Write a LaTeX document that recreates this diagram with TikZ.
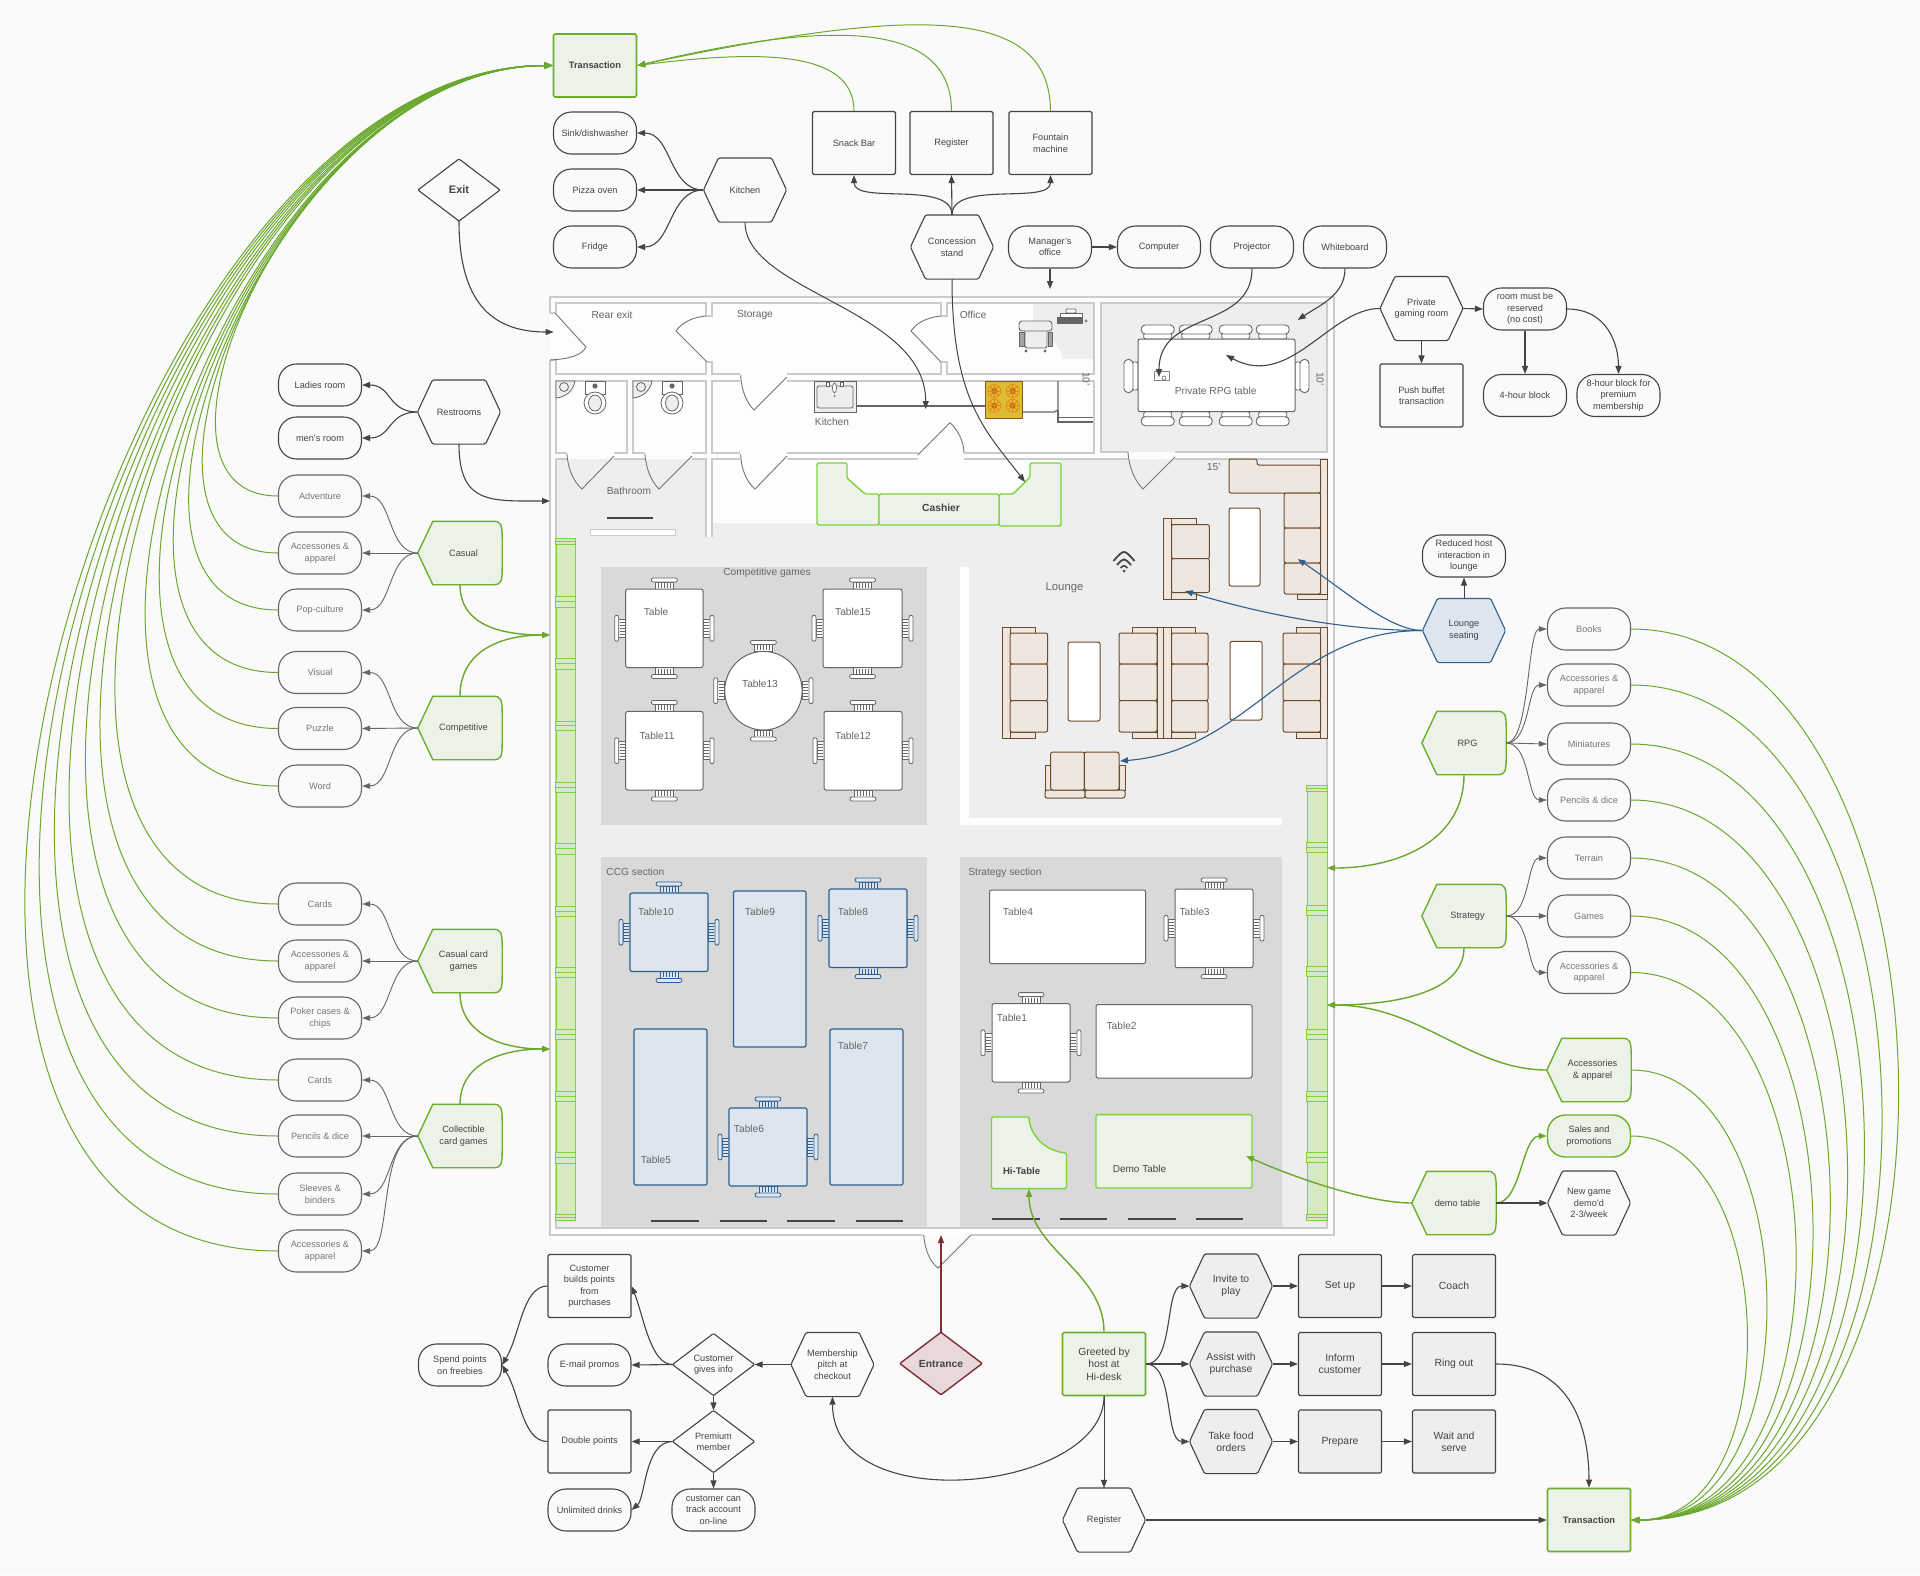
\documentclass[tikz,border=0pt]{standalone}
\usepackage{fontspec}
\setmainfont{Liberation Sans}
\usetikzlibrary{arrows.meta}
\definecolor{bgc}{HTML}{FAFAFA}
\definecolor{ink}{HTML}{444444}
\definecolor{gy}{HTML}{666666}
\definecolor{gytx}{HTML}{777777}
\definecolor{gn}{HTML}{6CB02A}
\definecolor{gnl}{HTML}{6AA82E}
\definecolor{gnf}{HTML}{EDF2E8}
\definecolor{gnb}{HTML}{7AD33C}
\definecolor{railf}{HTML}{D6E9BF}
\definecolor{blu}{HTML}{2D5F8F}
\definecolor{bluf}{HTML}{DDE5EE}
\definecolor{rd}{HTML}{7E2E35}
\definecolor{rdf}{HTML}{E8D8DA}
\definecolor{wall}{HTML}{CBCBCB}
\definecolor{flr}{HTML}{EEEEEE}
\definecolor{sect}{HTML}{D9D9D9}
\definecolor{sofaf}{HTML}{EFE7DF}
\definecolor{sofad}{HTML}{6B4A2A}
\definecolor{stove}{HTML}{DDBB33}
\newdimen\pnA \newdimen\pnB \newdimen\pnC \newdimen\pnD \newdimen\pnE \newdimen\pnF \newdimen\pnG \newdimen\pnH \newdimen\pnI \newdimen\pnJ \newdimen\pnK \newdimen\pnL
\makeatletter
\pgfdeclareshape{hexa}{
 \inheritsavedanchors[from=rectangle]
 \inheritanchorborder[from=rectangle]
 \inheritanchor[from=rectangle]{center}
 \inheritanchor[from=rectangle]{north}
 \inheritanchor[from=rectangle]{south}
 \inheritanchor[from=rectangle]{west}
 \inheritanchor[from=rectangle]{east}
 \backgroundpath{
  \southwest \pnA=\pgf@x \pnB=\pgf@y
  \northeast \pnC=\pgf@x \pnD=\pgf@y
  \pnE=.5\pnB \advance\pnE by .5\pnD
  \pnF=\pnA \advance\pnF by 15pt
  \pnG=\pnC \advance\pnG by -15pt
  \pgfpathmoveto{\pgfqpoint{\pnA}{\pnE}}
  \pgfpathlineto{\pgfqpoint{\pnF}{\pnD}}
  \pgfpathlineto{\pgfqpoint{\pnG}{\pnD}}
  \pgfpathlineto{\pgfqpoint{\pnC}{\pnE}}
  \pgfpathlineto{\pgfqpoint{\pnG}{\pnB}}
  \pgfpathlineto{\pgfqpoint{\pnF}{\pnB}}
  \pgfpathclose
 }
}
\pgfdeclareshape{penta}{
 \inheritsavedanchors[from=rectangle]
 \inheritanchorborder[from=rectangle]
 \inheritanchor[from=rectangle]{center}
 \inheritanchor[from=rectangle]{north}
 \inheritanchor[from=rectangle]{south}
 \inheritanchor[from=rectangle]{west}
 \inheritanchor[from=rectangle]{east}
 \backgroundpath{
  \southwest \pnA=\pgf@x \pnB=\pgf@y
  \northeast \pnC=\pgf@x \pnD=\pgf@y
  \pnE=.5\pnB \advance\pnE by .5\pnD
  \pnF=\pnA \advance\pnF by 15pt
  \pnG=\pnC \advance\pnG by -9pt
  \pnH=\pnC \advance\pnH by -1pt
  \pnI=\pnD \advance\pnI by -3pt
  \pnJ=\pnD \advance\pnJ by -18pt
  \pnK=\pnB \advance\pnK by 3pt
  \pnL=\pnB \advance\pnL by 18pt
  \pgfpathmoveto{\pgfqpoint{\pnA}{\pnE}}
  \pgfpathlineto{\pgfqpoint{\pnF}{\pnD}}
  \pgfpathlineto{\pgfqpoint{\pnG}{\pnD}}
  \pgfpathcurveto{\pgfqpoint{\pnH}{\pnD}}{\pgfqpoint{\pnC}{\pnI}}{\pgfqpoint{\pnC}{\pnJ}}
  \pgfpathlineto{\pgfqpoint{\pnC}{\pnL}}
  \pgfpathcurveto{\pgfqpoint{\pnC}{\pnK}}{\pgfqpoint{\pnH}{\pnB}}{\pgfqpoint{\pnG}{\pnB}}
  \pgfpathlineto{\pgfqpoint{\pnF}{\pnB}}
  \pgfpathclose
 }
}
\pgfdeclareshape{diam}{
 \inheritsavedanchors[from=rectangle]
 \inheritanchorborder[from=rectangle]
 \inheritanchor[from=rectangle]{center}
 \inheritanchor[from=rectangle]{north}
 \inheritanchor[from=rectangle]{south}
 \inheritanchor[from=rectangle]{west}
 \inheritanchor[from=rectangle]{east}
 \backgroundpath{
  \southwest \pnA=\pgf@x \pnB=\pgf@y
  \northeast \pnC=\pgf@x \pnD=\pgf@y
  \pnE=.5\pnB \advance\pnE by .5\pnD
  \pnF=.5\pnA \advance\pnF by .5\pnC
  \pgfpathmoveto{\pgfqpoint{\pnA}{\pnE}}
  \pgfpathlineto{\pgfqpoint{\pnF}{\pnD}}
  \pgfpathlineto{\pgfqpoint{\pnC}{\pnE}}
  \pgfpathlineto{\pgfqpoint{\pnF}{\pnB}}
  \pgfpathclose
 }
}
\makeatother
\newcommand\sh{\hspace*{7pt}}
\newcommand\lbl[5][gy]{\node[text=#1,inner sep=0pt,align=center,font=\fontsize{10.2}{12}\selectfont] (#2) at (#3,#4) {#5};}
% chair: table-edge point x y, rotation, stroke, fill
\newcommand\chairp[5]{\begin{scope}[shift={(#1,#2)},rotate=#3,draw=#4,line width=0.8pt]
 \draw[fill=#5] (-9,0) rectangle (9,-7);
 \foreach \hx in {-6,-3,0,3,6}{\draw[line width=0.5pt] (\hx,-1) -- (\hx,-6);}
 \draw[fill=#5,rounded corners=2pt] (-13,-7) rectangle (13,-11);
 \end{scope}}
\newcommand\tbl[7]{\draw[draw=#5,fill=#6,line width=#7,rounded corners=2pt] (#1,#2) rectangle (#3,#4);}
\newcommand\tchairs[6]{\pgfmathsetmacro\cx{(#1+#3)/2}\pgfmathsetmacro\cy{(#2+#4)/2}%
 \chairp{\cx}{#2}{0}{#5}{#6}\chairp{\cx}{#4}{180}{#5}{#6}\chairp{#1}{\cy}{90}{#5}{#6}\chairp{#3}{\cy}{-90}{#5}{#6}}
\newcommand\bigch[3]{\begin{scope}[shift={(#1,#2)},rotate=#3,draw=gy,line width=0.9pt]
 \draw[fill=white,rounded corners=1.5pt] (-14,0) rectangle (14,-6);
 \draw[fill=white,rounded corners=4pt] (-16.5,-5) rectangle (16.5,-14);
 \end{scope}}
\newcommand\seat[4]{\draw[draw=sofad,fill=sofaf,line width=1pt,rounded corners=2pt] (#1,#2) rectangle (#3,#4);}
\newcommand\toilet[1]{\begin{scope}[draw=gy,line width=0.8pt]
 \draw[fill=white] (#1-10,381) rectangle (#1+10,394);
 \fill[gy] (#1,386) circle (2.6);
 \draw[fill=white] (#1,403) ellipse (11 and 11);
 \draw[fill=flr] (#1,403) ellipse (6.5 and 8);
 \end{scope}}
\newcommand\csink[1]{\begin{scope}[draw=gy,line width=0.8pt]
 \draw[fill=flr] (#1,381) -- (#1+19,381) .. controls (#1+17,391) and (#1+10,397) .. (#1,398) -- cycle;
 \draw (#1+8,387) circle (4.5);
 \end{scope}}
\newcommand\burner[2]{\fill[brown!75!black] (#1,#2) circle (3);
 \foreach \ba in {0,45,...,315}{\draw[orange!70!brown,line width=0.7pt] (#1,#2) -- ++(\ba:6.5);}
 \draw[orange!70!brown,line width=.6pt] (#1,#2) circle (6.5);}
\tikzset{
 x=1pt,y=-1pt,
 every node/.style={font=\fontsize{9.2}{11.5}\selectfont},
 base/.style={draw=ink,fill=bgc,text=ink,line width=1.1pt,align=center,inner sep=0pt},
 rnd/.style={base,rectangle,rounded corners=18pt,minimum width=83pt,minimum height=42pt},
 rgy/.style={rnd,draw=gy,text=gytx},
 nbox/.style={base,rectangle,rounded corners=1.5pt,minimum width=83pt,minimum height=63pt},
 hex/.style={base,hexa,rounded corners=1.5pt,minimum width=82pt,minimum height=63pt},
 pen/.style={base,penta,draw=gn,fill=gnf,line width=1.4pt,minimum width=83pt,minimum height=62pt},
 dia/.style={base,diam,rounded corners=1pt,minimum width=81pt,minimum height=61pt},
 gbig/.style={font=\fontsize{10.4}{12.3}\selectfont},
 greyfill/.style={fill=flr,gbig},
 wl/.style={draw=wall,line width=1.3pt},
 dr/.style={draw=gy!90,line width=0.9pt},
 con/.style={draw=ink,line width=1.1pt,-{Triangle[length=8pt,width=6pt]}},
 thin con/.style={draw=gy,line width=0.9pt,-{Triangle[length=8pt,width=5.5pt]}},
 gc/.style={draw=gnl,line width=1pt,-{Triangle[length=8pt,width=6pt]}},
 gcb/.style={draw=gnl,line width=1.4pt,-{Triangle[length=8pt,width=6pt]}},
 bc/.style={draw=blu,line width=1.1pt,-{Triangle[length=8pt,width=6pt]}},
 railc/.style={draw=gnb,fill=railf,line width=0.9pt},
 gt/.style={draw=gnb,fill=gnf,line width=1.4pt},
}
\begin{document}
\begin{tikzpicture}
\useasboundingbox (0,0) rectangle (1920,1575);
\fill[bgc] (0,0) rectangle (1920,1575);
% ---------- floor ----------
\fill[white!60!bgc] (550,297) rectangle (1334,1235);
\fill[flr] (556,523) rectangle (1327,1228);
\fill[flr] (556,459) rectangle (706,537);
\fill[flr] (1060,459) rectangle (1327,523);
\fill[white!60!bgc] (706,459) rectangle (712,537);
\fill[white!60!bgc] (960,567) rectangle (968.5,825);
\fill[white!60!bgc] (960,817.5) rectangle (1282,825);
\fill[sect] (600.7,567) rectangle (927,824.6);
\fill[sect] (600.7,857) rectangle (927,1227);
\fill[sect] (960,857) rectangle (1282,1227);
\fill[flr] (1101,303) rectangle (1327,452);
\fill[flr] (1033,303) -- (1094,303) -- (1094,359) -- (1063,359) .. controls (1059,345) and (1052,335) .. (1033,331) -- cycle;
% walls
\draw[wl] (550,360) -- (550,1235) -- (923,1235);
\draw[wl] (971,1235) -- (1334,1235) -- (1334,297) -- (550,297) -- (550,313) -- (556,313);
\draw[wl] (550,360) -- (556,360);
\draw[wl] (556,313) -- (556,303) -- (706,303) -- (706,316) -- (712,316) -- (712,303) -- (941,303) -- (941,316) -- (947,316) -- (947,303) -- (1094,303) -- (1094,374) -- (947,374) -- (947,362) -- (941,362) -- (941,374) -- (787,374);
\draw[wl] (740,374) -- (712,374) -- (712,362) -- (706,362) -- (706,374) -- (556,374) -- (556,360);
\draw[wl] (567,453) -- (556,453) -- (556,381) -- (627,381) -- (627,453) -- (614,453);
\draw[wl] (645,453) -- (633,453) -- (633,381) -- (706,381) -- (706,453) -- (692,453);
\draw[wl] (740,381) -- (712,381) -- (712,453) -- (740,453);
\draw[wl] (787,453) -- (917.7,453);
\draw[wl] (964,453) -- (1094,453) -- (1094,381) -- (787,381);
\draw[wl] (556,459) -- (567,459);
\draw[wl] (614,459) -- (645,459);
\draw[wl] (692,459) -- (706,459) -- (706,537);
\draw[wl] (712,537) -- (712,459) -- (740,459);
\draw[wl] (787,459) -- (917.7,459);
\draw[wl] (964,459) -- (1128,459);
\draw[wl] (1175,459) -- (1327,459) -- (1327,1228) -- (556,1228) -- (556,459);
\draw[wl] (1128,452) -- (1101,452) -- (1101,303) -- (1327,303) -- (1327,452) -- (1175,452);
% doors
\draw[dr] (555,313) -- (586,347) .. controls (582,355) and (570,359) .. (550,360);
\draw[dr] (706,316) .. controls (694,317) and (682,322) .. (676,331) -- (707,362);
\draw[dr] (941,316) .. controls (929,317) and (917,322) .. (911,331) -- (941,362);
\draw[dr] (740.7,375) .. controls (741,390) and (747,403) .. (754,410) -- (787,377);
\draw[dr] (740.7,454) .. controls (741,470) and (747,482) .. (755,489) -- (787,456);
\draw[dr] (567,454) .. controls (568,470) and (574,482) .. (582,489) -- (614,456);
\draw[dr] (645,454) .. controls (646,470) and (652,482) .. (659,489) -- (692,456);
\draw[dr] (917.7,455) -- (950,422.7) .. controls (958,430) and (964,442) .. (964,453);
\draw[dr] (1128,452) .. controls (1129,468) and (1135,481) .. (1143,489) -- (1175,457);
\draw[dr] (923.7,1235) .. controls (925,1250) and (930,1262) .. (938,1268) -- (971,1235);
% bathroom
\draw[ink,line width=2.4pt] (607,518) -- (653,518);
\draw[draw=wall,fill=white,line width=1pt] (590,529) rectangle (675,535.5);
% kitchen fixtures
\draw[draw=gy,fill=flr,line width=1pt] (814,381) rectangle (856,412);
\draw[draw=gy,fill=flr,line width=0.8pt,rounded corners=2pt] (817,386) rectangle (853,408);
\draw[fill=white,draw=gy,line width=0.7pt] (834.5,388) ellipse (2 and 5);
\fill[gy] (834.5,396) circle (1);
\draw[draw=gy,fill=white,line width=0.6pt] (826,382) rectangle (829,386);
\draw[draw=gy,fill=white,line width=0.6pt] (840,382) rectangle (843,386);
\draw[gy,line width=1.2pt] (856,406) -- (985,406);
\draw[draw=brown!70!black,fill=stove,line width=0.8pt] (985,381) rectangle (1022,418);
\burner{994.3}{391}\burner{1012.7}{391}\burner{994.3}{405.7}\burner{1012.7}{405.7}
\draw[gy,line width=1.2pt] (1022,412) -- (1054,412) -- (1058,410) -- (1058,381);
\draw[gy,line width=1.2pt] (1058,410) -- (1058,422) -- (1093,422);
\draw[gy,line width=1pt] (1058,417) -- (1093,417);
% toilets
\csink{556}\csink{633}
\toilet{595}\toilet{672}
% office
\draw[draw=gy,fill=white,line width=.8pt,rounded corners=1pt] (1066,309) rectangle (1076,313);
\draw[draw=gy,fill=white,line width=.8pt] (1060,313) rectangle (1082,317);
\draw[draw=gy,fill=gy,line width=.6pt] (1057,317) rectangle (1082,323);
\draw[draw=gy,line width=.6pt] (1086,321) circle (1.2);
\draw[draw=gy,fill=flr,line width=.9pt,rounded corners=2pt] (1025,328) rectangle (1047,348);
\draw[draw=gy,fill=gy!60,line width=.8pt] (1019.5,332) rectangle (1024,346);
\draw[draw=gy,fill=gy!60,line width=.8pt] (1048,332) rectangle (1052.5,346);
\draw[draw=gy,fill=flr,line width=.9pt,rounded corners=3pt] (1019,321) rectangle (1052,331);
\fill[gy] (1026,351) circle (1.6) (1045,351) circle (1.6);
% private room
\foreach \cxx in {1157.7,1195.7,1235.7,1272.7}{\bigch{\cxx}{339}{0}\bigch{\cxx}{411.7}{180}}
\bigch{1138}{376}{90}\bigch{1295}{376}{-90}
\draw[draw=gy,fill=white,line width=1pt,rounded corners=2pt] (1138,339) rectangle (1295,411.7);
\draw[draw=gy!80,fill=white,line width=.6pt] (1154,371) rectangle (1169,380);
\draw[gy,line width=.6pt] (1164,378) circle (2);
\lbl{lPriv}{1215.7}{391}{Private RPG table}
\node[text=gy,inner sep=0pt,rotate=-90,font=\fontsize{10.2}{12}\selectfont] (lTenA) at (1086,379) {10'};
\node[text=gy,inner sep=0pt,rotate=-90,font=\fontsize{10.2}{12}\selectfont] (lTenB) at (1320,379) {10'};
\lbl{lFif}{1213.7}{466.7}{15'}
% sofas
\draw[draw=sofad,fill=sofaf,line width=1pt] (1320.7,459) rectangle (1327,594);
\draw[draw=sofad,fill=sofaf,line width=1pt,rounded corners=2pt] (1229,459) -- (1257,459) -- (1257,465) -- (1320.7,465) -- (1320.7,493) -- (1229,493) -- cycle;
\seat{1284}{493}{1320.7}{528}\seat{1284}{528}{1320.7}{563}\seat{1284}{563}{1320.7}{594}
\draw[draw=sofad,fill=sofaf,line width=1pt] (1297,594) rectangle (1327,599);
\draw[draw=sofad,fill=white,line width=1pt,rounded corners=2pt] (1229,508) rectangle (1260,586);
% wifi sofa
\draw[draw=sofad,fill=sofaf,line width=1pt] (1163.5,518) rectangle (1171.5,599);
\draw[draw=sofad,fill=sofaf,line width=1pt] (1171.5,518) rectangle (1196,524.6);
\draw[draw=sofad,fill=sofaf,line width=1pt] (1171.5,592.5) rectangle (1196,599);
\seat{1171.5}{524.6}{1209.4}{558.6}\seat{1171.5}{558.6}{1209.4}{592.5}
% left sofa
\draw[draw=sofad,fill=sofaf,line width=1pt] (1002,627) rectangle (1010,738);
\draw[draw=sofad,fill=sofaf,line width=1pt] (1010,627) rectangle (1035,633);
\draw[draw=sofad,fill=sofaf,line width=1pt] (1010,732) rectangle (1035,738);
\seat{1010}{633}{1047.6}{664}\seat{1010}{664}{1047.6}{700.7}\seat{1010}{700.7}{1047.6}{732}
\draw[draw=sofad,fill=white,line width=1pt,rounded corners=2pt] (1068,642) rectangle (1100,721);
% centre sofa
\draw[draw=sofad,fill=sofaf,line width=1pt] (1132,627) rectangle (1195,633);
\draw[draw=sofad,fill=sofaf,line width=1pt] (1132,732) rectangle (1195,738);
\draw[draw=sofad,fill=sofaf,line width=1pt] (1157,627) rectangle (1163.5,738);
\draw[draw=sofad,fill=sofaf,line width=1pt] (1163.5,627) rectangle (1171.5,738);
\seat{1119}{633}{1157}{664}\seat{1119}{664}{1157}{700.7}\seat{1119}{700.7}{1157}{732}
\seat{1171.5}{633}{1208}{664}\seat{1171.5}{664}{1208}{700.7}\seat{1171.5}{700.7}{1208}{732}
\draw[draw=sofad,fill=white,line width=1pt,rounded corners=2pt] (1230,641.4) rectangle (1262,720);
% right sofa
\draw[draw=sofad,fill=sofaf,line width=1pt] (1320.6,627) rectangle (1327,738);
\draw[draw=sofad,fill=sofaf,line width=1pt] (1296,627) rectangle (1320.6,633);
\draw[draw=sofad,fill=sofaf,line width=1pt] (1296,732) rectangle (1320.6,738);
\seat{1283}{633}{1320.6}{664}\seat{1283}{664}{1320.6}{700.7}\seat{1283}{700.7}{1320.6}{732}
% bottom sofa
\draw[draw=sofad,fill=sofaf,line width=1pt] (1045,765) rectangle (1051,790);
\draw[draw=sofad,fill=sofaf,line width=1pt] (1119,765) rectangle (1125,790);
\seat{1045}{790}{1085}{798}\seat{1085}{790}{1125}{798}
\seat{1050.7}{752}{1084.4}{790}\seat{1084.4}{752}{1119}{790}
% wifi
\draw[ink,line width=1.8pt] (1113.5,561) .. controls (1124,549) .. (1134.5,561);
\draw[ink,line width=1.8pt] (1117,565) .. controls (1124,557.5) .. (1131,565);
\draw[ink,line width=1.6pt] (1120.5,568) .. controls (1124,565) .. (1127.5,568);
\fill[ink] (1124,571) circle (1.5);
% cashier
\draw[gt,rounded corners=1.5pt] (817,463) -- (847,463) -- (847,478) -- (865,494) -- (879,494) -- (879,525) -- (817,525) -- cycle;
\draw[gt,rounded corners=1.5pt] (999,494) -- (1013,494) -- (1030,477) -- (1030,463) -- (1061,463) -- (1061,526) -- (999,526) -- cycle;
\draw[gt,rounded corners=1.5pt] (879,494) rectangle (999,525);
\node[text=ink,inner sep=0pt,font=\fontsize{10.3}{12}\selectfont\bfseries] (lCash) at (941,508) {Cashier};
% rails
\draw[railc] (556,538) rectangle (575,1220);
\draw[railc] (1307,785) rectangle (1327,1220);
\foreach \ba/\bb in {538/544,596/607,658.6/669,721/730,782/792.5,843/854,906/916,967/977,1029/1039,1091/1101,1152/1163,1214/1220}{
 \draw[railc] (555.5,\ba) rectangle (575.5,\bb);
 \draw[draw=gnb,line width=.7pt] (556,{(\ba+\bb)/2}) -- (575,{(\ba+\bb)/2});}
\foreach \ba/\bb in {785/791,842/852,905/915,966/976,1029/1039,1091/1101,1152/1162,1214/1220}{
 \draw[railc] (1306.5,\ba) rectangle (1327,\bb);
 \draw[draw=gnb,line width=.7pt] (1307,{(\ba+\bb)/2}) -- (1327,{(\ba+\bb)/2});}
% competitive tables
\tchairs{625.7}{589}{703}{667.5}{gy}{white}\tbl{625.7}{589}{703}{667.5}{gy}{white}{1pt}
\tchairs{823}{589}{902}{667.5}{gy}{white}\tbl{823}{589}{902}{667.5}{gy}{white}{1pt}
\tchairs{625.7}{711.4}{703}{790}{gy}{white}\tbl{625.7}{711.4}{703}{790}{gy}{white}{1pt}
\tchairs{824}{711.4}{902}{790}{gy}{white}\tbl{824}{711.4}{902}{790}{gy}{white}{1pt}
\tchairs{724.7}{651.4}{802}{730}{gy}{white}
\draw[draw=gy,fill=white,line width=1pt] (763.4,690.7) ellipse (38.7 and 39.3);
\lbl{lT0}{656}{612}{Table}\lbl{lT15}{853}{612}{Table15}\lbl{lT13}{760}{684}{Table13}\lbl{lT11}{657}{736}{Table11}\lbl{lT12}{853}{736}{Table12}
\lbl{lComp}{767}{573}{Competitive games}
% ccg tables
\tchairs{630}{893}{708}{971.4}{blu}{bluf}\tbl{630}{893}{708}{971.4}{blu}{bluf}{1.2pt}
\tbl{733.4}{891}{806}{1047}{blu}{bluf}{1.2pt}
\tchairs{829}{889}{907}{967.5}{blu}{bluf}\tbl{829}{889}{907}{967.5}{blu}{bluf}{1.2pt}
\tbl{634}{1029}{707}{1185}{blu}{bluf}{1.2pt}
\tchairs{729}{1108}{807}{1186}{blu}{bluf}\tbl{729}{1108}{807}{1186}{blu}{bluf}{1.2pt}
\tbl{830}{1029}{903}{1185}{blu}{bluf}{1.2pt}
\lbl{lT10}{656}{912}{Table10}\lbl{lT9}{760}{912}{Table9}\lbl{lT8}{853}{912}{Table8}\lbl{lT5}{656}{1160}{Table5}\lbl{lT6}{749}{1129}{Table6}\lbl{lT7}{853}{1046}{Table7}
\lbl{lCcg}{635.4}{872}{CCG section}
% strategy tables
\tbl{989.5}{890}{1145.6}{963.6}{gy}{white}{1pt}
\tchairs{1175}{889}{1253}{967.5}{gy}{white}\tbl{1175}{889}{1253}{967.5}{gy}{white}{1pt}
\tchairs{992}{1003.6}{1070}{1082}{gy}{white}\tbl{992}{1003.6}{1070}{1082}{gy}{white}{1pt}
\tbl{1096}{1004.6}{1252}{1078}{gy}{white}{1pt}
\lbl{lT4}{1018}{912}{Table4}\lbl{lT3}{1194.6}{912}{Table3}\lbl{lT1}{1012}{1018}{Table1}\lbl{lT2}{1121.6}{1026}{Table2}
\lbl{lStr}{1005}{873}{Strategy section}
\draw[gt,rounded corners=1.5pt] (991.5,1117) -- (1029,1117) .. controls (1030,1135) and (1045,1151) .. (1066.5,1153) -- (1066.5,1188.6) -- (991.5,1188.6) -- cycle;
\node[inner sep=0pt,minimum width=75pt,minimum height=71.6pt] (hitable) at (1029,1152.8) {};
\node[text=ink,inner sep=0pt,font=\fontsize{9.6}{12}\selectfont\bfseries] (lHi) at (1021.6,1171) {Hi-Table};
\draw[gt,rounded corners=1.5pt] (1096,1114.6) rectangle (1252,1188);
\node[text=ink,inner sep=0pt,font=\fontsize{10}{12}\selectfont] (lDemo) at (1139.5,1169) {Demo Table};
% bars
\foreach \ba/\bb in {651/699,719.6/767,787.4/835,856/903}{\draw[ink,line width=2pt] (\ba,1220.7) -- (\bb,1220.7);}
\foreach \ba/\bb in {992/1040,1060/1107,1128/1176,1196/1243}{\draw[ink,line width=2pt] (\ba,1219) -- (\bb,1219);}
% room labels
\lbl{lRear}{612}{315}{Rear exit}\lbl{lStor}{755}{315}{Storage}\lbl{lOff}{973}{315}{Office}
\lbl{lKit}{832}{422}{Kitchen}\lbl{lBath}{629}{491}{Bathroom}
\node[text=gy,inner sep=0pt,font=\fontsize{11.3}{13}\selectfont] (lLounge) at (1064.5,588) {Lounge};
% ---------- nodes ----------
\node[nbox,draw=gn,fill=gnf,line width=1.6pt,font=\fontsize{9.3}{11}\selectfont\bfseries] (T1) at (595,65.5) {Transaction};
\node[rnd] (sink) at (595,133) {Sink/dishwasher};
\node[rnd] (pizza) at (595,190) {Pizza oven};
\node[rnd] (fridge) at (595,247) {Fridge};
\node[dia,font=\fontsize{11}{13}\selectfont\bfseries] (exit) at (459,190) {Exit};
\node[hex] (kitchen) at (745,190) {Kitchen};
\node[nbox,minimum height=63pt] (snack) at (854,143) {Snack Bar};
\node[nbox] (reg1) at (951.5,143) {Register};
\node[nbox] (fount) at (1050.5,143) {Fountain\\machine};
\node[hex] (conc) at (952,247) {Concession\\stand};
\node[rnd] (mgr) at (1050,247) {Manager's\\office};
\node[rnd] (comp) at (1159,247) {Computer};
\node[rnd] (proj) at (1252,247) {Projector};
\node[rnd] (white) at (1345,247) {Whiteboard};
\node[hex] (priv) at (1421.5,308.5) {Private\\gaming room};
\node[rnd] (room) at (1525,309) {room must be\\reserved\\(no cost)};
\node[nbox] (push) at (1421.5,395.5) {Push buffet\\transaction};
\node[rnd] (four) at (1525,395.5) {4-hour block};
\node[rnd] (eight) at (1618.5,395.5) {8-hour block for\\premium\\membership};
\node[rnd] (ladies) at (320,385) {Ladies room};
\node[rnd] (mens) at (320,438) {men's room};
\node[hex] (rest) at (459,412) {Restrooms};
\node[rgy] (adv) at (320,496) {Adventure};
\node[rgy] (acca) at (320,553) {Accessories \&\\apparel};
\node[rgy] (pop) at (320,610) {Pop-culture};
\node[rgy] (vis) at (320,672.5) {Visual};
\node[rgy] (puz) at (320,728.5) {Puzzle};
\node[rgy] (word) at (320,786) {Word};
\node[rgy] (carda) at (320,904) {Cards};
\node[rgy] (accb) at (320,961) {Accessories \&\\apparel};
\node[rgy] (poker) at (320,1018) {Poker cases \&\\chips};
\node[rgy] (cardb) at (320,1080) {Cards};
\node[rgy] (pena) at (320,1136) {Pencils \& dice};
\node[rgy] (sleeve) at (320,1194) {Sleeves \&\\binders};
\node[rgy] (accc) at (320,1251) {Accessories \&\\apparel};
\node[pen] (casual) at (460,553) {\sh Casual};
\node[pen] (compet) at (460,728) {\sh Competitive};
\node[pen] (ccard) at (460,961) {\sh Casual card\\\sh games};
\node[pen] (coll) at (460,1136) {\sh Collectible\\\sh card games};
\node[rnd] (reduced) at (1464,556) {Reduced host\\interaction in\\lounge};
\node[hex,draw=blu,fill=bluf] (lounge) at (1464,630.5) {Lounge\\seating};
\node[pen] (rpg) at (1464,743) {\sh RPG};
\node[pen] (strat) at (1464,916) {\sh Strategy};
\node[pen] (demo) at (1454,1203) {\sh demo table};
\node[pen] (accg) at (1589,1070) {\sh Accessories\\\sh \& apparel};
\node[rgy] (books) at (1589,629) {Books};
\node[rgy] (accd) at (1589,685) {Accessories \&\\apparel};
\node[rgy] (mini) at (1589,744) {Miniatures};
\node[rgy] (penb) at (1589,800) {Pencils \& dice};
\node[rgy] (terr) at (1589,858) {Terrain};
\node[rgy] (games) at (1589,916) {Games};
\node[rgy] (acce) at (1589,972.5) {Accessories \&\\apparel};
\node[rnd,draw=gn,fill=gnf,line width=1.4pt] (sales) at (1589,1136) {Sales and\\promotions};
\node[hex] (newg) at (1589,1203) {New game\\demo'd\\2-3/week};
\node[nbox] (builds) at (589.5,1286) {Customer\\builds points\\from\\purchases};
\node[rnd] (email) at (589.5,1365) {E-mail promos};
\node[nbox] (dbl) at (589.5,1441.5) {Double points};
\node[rnd] (unl) at (589.5,1510) {Unlimited drinks};
\node[rnd] (spend) at (460,1365) {Spend points\\on freebies};
\node[dia] (cgi) at (713.5,1364.5) {Customer\\gives info};
\node[dia] (prem) at (713.5,1441.5) {Premium\\member};
\node[rnd] (track) at (713.5,1510) {customer can\\track account\\on-line};
\node[hex] (memb) at (832.5,1364.5) {Membership\\pitch at\\checkout};
\node[dia,draw=rd,fill=rdf,line width=1.4pt,font=\fontsize{10.3}{12}\selectfont\bfseries] (entr) at (941,1363.5) {Entrance};
\node[nbox,draw=gn,fill=gnf,line width=1.6pt,gbig] (greet) at (1104,1364) {Greeted by\\host at\\Hi-desk};
\node[hex,greyfill] (invite) at (1231,1286) {Invite to\\play};
\node[hex,greyfill] (assist) at (1231,1364) {Assist with\\purchase};
\node[hex,greyfill] (take) at (1231,1441.5) {Take food\\orders};
\node[nbox,greyfill] (setup) at (1340,1286) {Set up};
\node[nbox,greyfill] (inform) at (1340,1364) {Inform\\customer};
\node[nbox,greyfill] (prep) at (1340,1441.5) {Prepare};
\node[nbox,greyfill] (coach) at (1454,1286) {Coach};
\node[nbox,greyfill] (ring) at (1454,1364) {Ring out};
\node[nbox,greyfill] (wait) at (1454,1441.5) {Wait and\\serve};
\node[hex] (reg2) at (1104,1520) {Register};
\node[nbox,draw=gn,fill=gnf,line width=1.6pt,font=\fontsize{9.3}{11}\selectfont\bfseries] (T2) at (1589,1520) {Transaction};
% free ends
\coordinate (tExit) at (553.6,332);
\coordinate (tRest) at (550,501);
\coordinate (tKit) at (925.7,409);
\coordinate (tCash) at (1025,482);
\coordinate (tOff) at (1050,289);
\coordinate (tProj) at (1159,377);
\coordinate (tWhite) at (1297.7,320);
\coordinate (tPriv) at (1226,355);
\coordinate (tSofaA) at (1185,591);
\coordinate (tSofaB) at (1297.7,559);
\coordinate (tSofaC) at (1120,761);
\coordinate (tEntr) at (941,1235);
\coordinate (tDemo) at (1246,1156);
\coordinate (railA) at (550,635);
\coordinate (railB) at (550,1049);
\coordinate (railC) at (1327,868);
\coordinate (railD) at (1327,1005);
% ---------- connectors ----------
\foreach \n/\a/\c in {adv/165/253,acca/190/268,pop/215/283,vis/243/300,puz/268/315,word/293/330,carda/346/361,accb/372/376,poker/397/391,cardb/425/408,pena/450/423,sleeve/476/438,accc/500/453}
 \draw[gc] (\n.west) .. controls +(-\a,0) and +(-\c,0) .. (T1.west);
\foreach \n/\a/\b in {books/340/370,accd/320/346,mini/297/322,penb/276/298,terr/253/275,games/231/251,acce/210/227,accg/172/187,sales/147/160}
 \draw[gc] (\n.east) .. controls +(\a,0) and +(\b,0) .. (T2.east);
\draw[gc] (snack.north) .. controls (854,50) and (760,50) .. (T1.east);
\draw[gc] (reg1.north) .. controls (951,20) and (830,20) .. (T1.east);
\draw[gc] (fount.north) .. controls (1050,0) and (900,10) .. (T1.east);
\foreach \n in {sink,fridge}
 \draw[con] (kitchen.west) .. controls +(-35,0) and +(35,0) .. (\n.east);
\draw[con] (kitchen.west) -- (pizza.east);
\draw[con] (conc.north) .. controls +(0,-35) and +(0,30) .. (snack.south);
\draw[con] (conc.north) -- (reg1.south);
\draw[con] (conc.north) .. controls +(0,-35) and +(0,30) .. (fount.south);
\draw[con] (exit.south) .. controls (459,300) and (490,332) .. (tExit);
\draw[con] (rest.south) .. controls +(0,60) and +(-60,0) .. (tRest);
\draw[con] (rest.west) .. controls +(-30,0) and +(30,0) .. (ladies.east);
\draw[con] (rest.west) .. controls +(-30,0) and +(30,0) .. (mens.east);
\draw[con,line width=1pt] (kitchen.south) .. controls +(0,70) and +(0,-100) .. (tKit);
\draw[con,line width=1pt] (conc.south) .. controls (952,400) and (985,430) .. (tCash);
\draw[con] (mgr.south) -- (tOff);
\draw[con] (mgr.east) -- (comp.west);
\draw[con] (proj.south) .. controls (1252,330) and (1159,310) .. (tProj);
\draw[con] (white.south) .. controls (1345,295) and (1320,305) .. (tWhite);
\draw[con] (priv.west) .. controls (1330,308) and (1290,390) .. (tPriv);
\draw[con] (priv.east) -- (room.west);
\draw[con] (priv.south) -- (push.north);
\draw[con] (room.south) -- (four.north);
\draw[con] (room.east) .. controls +(40,0) and +(0,-30) .. (eight.north);
\foreach \s/\tt in {casual/adv,casual/pop,compet/vis,compet/word,ccard/carda,ccard/poker,coll/cardb,coll/sleeve}
 \draw[thin con] (\s.west) .. controls +(-30,0) and +(30,0) .. (\tt.east);
\draw[thin con] (coll.west) .. controls +(-40,0) and +(30,0) .. (accc.east);
\foreach \s/\tt in {casual/acca,compet/puz,ccard/accb,coll/pena}
 \draw[thin con] (\s.west) -- (\tt.east);
\draw[gcb] (casual.south) .. controls +(0,40) and +(-50,0) .. (railA);
\draw[gcb] (compet.north) .. controls +(0,-45) and +(-50,0) .. (railA);
\draw[gcb] (ccard.south) .. controls +(0,40) and +(-50,0) .. (railB);
\draw[gcb] (coll.north) .. controls +(0,-40) and +(-50,0) .. (railB);
\draw[con,line width=.9pt] (lounge.north) -- (reduced.south);
\draw[bc] (lounge.west) .. controls +(-90,0) and +(60,18) .. (tSofaA);
\draw[bc] (lounge.west) .. controls +(-33,0) and +(45,30) .. (tSofaB);
\draw[bc] (lounge.west) .. controls +(-133,0) and +(130,-10) .. (tSofaC);
\foreach \tt in {books,accd,penb}
 \draw[thin con] (rpg.east) .. controls +(24,0) and +(-20,0) .. (\tt.west);
\draw[thin con] (rpg.east) -- (mini.west);
\foreach \tt in {terr,acce}
 \draw[thin con] (strat.east) .. controls +(24,0) and +(-20,0) .. (\tt.west);
\draw[thin con] (strat.east) -- (games.west);
\draw[gcb] (rpg.south) .. controls +(0,65) and +(73,0) .. (railC);
\draw[gcb] (strat.south) .. controls +(0,43) and +(73,0) .. (railD);
\draw[gcb] (accg.west) .. controls +(-77,0) and +(93,0) .. (railD);
\draw[gcb] (demo.west) .. controls (1370,1203) and (1300,1180) .. (tDemo);
\draw[gcb] (demo.east) .. controls +(25,0) and +(-25,0) .. (sales.west);
\draw[con] (demo.east) -- (newg.west);
\draw[con] (builds.west) .. controls +(-25,0) and +(18,-30) .. (spend.east);
\draw[con] (dbl.west) .. controls +(-25,0) and +(18,30) .. (spend.east);
\draw[con] (cgi.west) .. controls +(-22,0) and +(12,30) .. (builds.east);
\draw[con] (cgi.west) -- (email.east);
\draw[con] (cgi.south) -- (prem.north);
\draw[con] (prem.west) -- (dbl.east);
\draw[con] (prem.west) .. controls +(-28,0) and +(14,-12) .. (unl.east);
\draw[con] (prem.south) -- (track.north);
\draw[con] (memb.west) -- (cgi.east);
\draw[draw=rd,line width=1.3pt,-{Triangle[length=8pt,width=6pt]}] (entr.north) -- (tEntr);
\draw[gcb] (greet.north) .. controls +(0,-60) and +(0,60) .. (hitable.south);
\draw[con] (greet.south) .. controls +(0,95) and +(0,124) .. (memb.south);
\draw[con,line width=.9pt] (greet.south) -- (reg2.north);
\draw[con] (greet.east) .. controls +(28,0) and +(-25,0) .. (invite.west);
\draw[con] (greet.east) -- (assist.west);
\draw[con] (greet.east) .. controls +(28,0) and +(-25,0) .. (take.west);
\draw[con] (invite.east) -- (setup.west);
\draw[con] (assist.east) -- (inform.west);
\draw[con] (take.east) -- (prep.west);
\draw[con] (setup.east) -- (coach.west);
\draw[con] (inform.east) -- (ring.west);
\draw[con] (prep.east) -- (wait.west);
\draw[con] (ring.east) .. controls +(75,0) and +(0,-60) .. (T2.north);
\draw[con] (reg2.east) -- (T2.west);
\end{tikzpicture}
\end{document}
